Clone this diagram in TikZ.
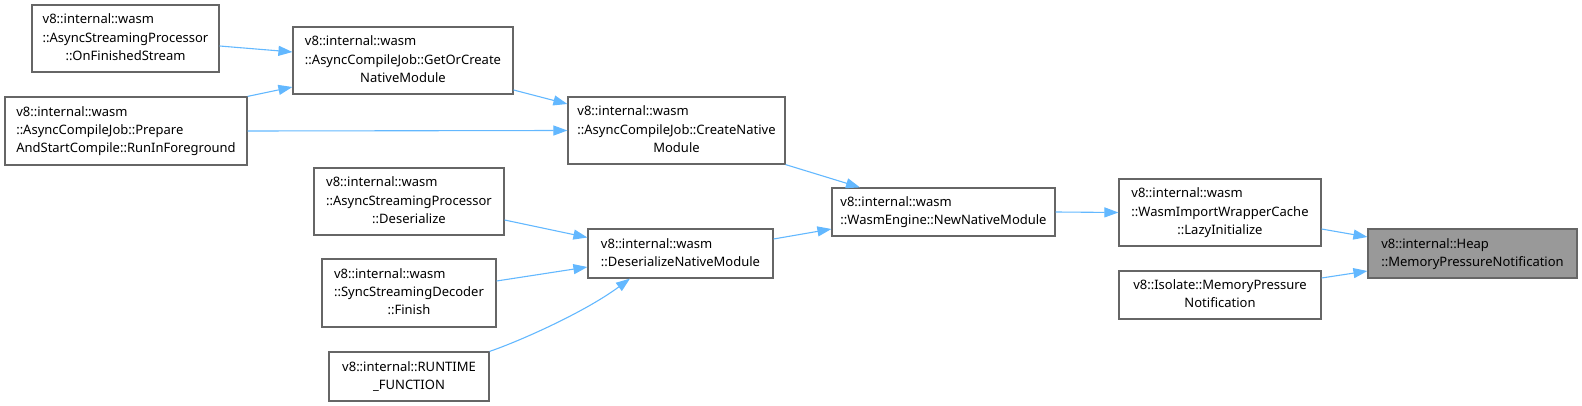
\documentclass[tikz,border=0pt]{standalone}
\usepackage{fontspec}
\setmainfont{Noto Sans}
\usetikzlibrary{arrows.meta,calc}
\definecolor{edgec}{HTML}{63B8FF}
\definecolor{bordc}{HTML}{666666}
\definecolor{rootc}{HTML}{999999}
\newcommand{\labthree}[3]{\begin{tabular}{@{}l@{}}#1\\#2\\\multicolumn{1}{@{}c@{}}{#3}\end{tabular}}
\newcommand{\labtwo}[2]{\begin{tabular}{@{}l@{}}#1\\\multicolumn{1}{@{}c@{}}{#2}\end{tabular}}
\tikzset{
  fnbox/.style={draw=bordc, line width=1.2pt, fill=white, inner sep=0pt, font=\fontsize{13}{18.3}\selectfont},
  rootbox/.style={fnbox, fill=rootc},
  calls/.style={draw=edgec, line width=1.1pt, -{Triangle[length=14pt,width=10pt]}},
}
\begin{document}
\begin{tikzpicture}[x=1pt,y=-1pt]
\useasboundingbox (0,0) rectangle (1582,406);
\node[fnbox, minimum width=187pt, minimum height=67pt] (ofs) at (125.5,38.5) {\labthree{v8::internal::wasm}{::AsyncStreamingProcessor}{::OnFinishedStream}};
\node[fnbox, minimum width=220pt, minimum height=67pt] (goc) at (403,60.5) {\labthree{v8::internal::wasm}{::AsyncCompileJob::GetOrCreate}{NativeModule}};
\node[fnbox, minimum width=242pt, minimum height=68pt] (rif) at (126,131) {\labthree{v8::internal::wasm}{::AsyncCompileJob::Prepare}{AndStartCompile::RunInForeground}};
\node[fnbox, minimum width=217pt, minimum height=67pt] (cnm) at (676.5,130.5) {\labthree{v8::internal::wasm}{::AsyncCompileJob::CreateNative}{Module}};
\node[fnbox, minimum width=223pt, minimum height=48pt] (nnm) at (943.5,212) {\labtwo{v8::internal::wasm}{::WasmEngine::NewNativeModule}};
\node[fnbox, minimum width=202pt, minimum height=67pt] (lazy) at (1220,212.5) {\labthree{v8::internal::wasm}{::WasmImportWrapperCache}{::LazyInitialize}};
\node[rootbox, minimum width=209pt, minimum height=49pt] (heap) at (1472.5,253.5) {\labtwo{v8::internal::Heap}{::MemoryPressureNotification}};
\node[fnbox, minimum width=202pt, minimum height=48pt] (iso) at (1220,295) {\labtwo{v8::Isolate::MemoryPressure}{Notification}};
\node[fnbox, minimum width=190pt, minimum height=67pt] (des) at (409,201.5) {\labthree{v8::internal::wasm}{::AsyncStreamingProcessor}{::Deserialize}};
\node[fnbox, minimum width=185pt, minimum height=49pt] (dnm) at (680.5,253.5) {\labtwo{v8::internal::wasm}{::DeserializeNativeModule}};
\node[fnbox, minimum width=174pt, minimum height=68pt] (ssd) at (409,293) {\labthree{v8::internal::wasm}{::SyncStreamingDecoder}{::Finish}};
\node[fnbox, minimum width=160pt, minimum height=49pt] (rt) at (409,376.5) {\labtwo{v8::internal::RUNTIME}{\_FUNCTION}};

\draw[calls] ([yshift=-7.5pt]ofs.east) -- ([yshift=8.5pt]goc.west);
\draw[calls] (rif.north east) -- ([yshift=-26.5pt]goc.west);
\draw[calls] (rif.east) -- (cnm.west);
\draw[calls] ([yshift=-29.5pt]goc.east) -- ([yshift=26.5pt]cnm.west);
\draw[calls] (cnm.south east) -- ([xshift=-83.5pt]nnm.north);
\draw[calls] ([yshift=-18.5pt]des.east) -- ([yshift=16pt]dnm.west);
\draw[calls] ([yshift=12pt]ssd.east) -- ([yshift=-13.5pt]dnm.west);
\draw[calls] (rt.north east) .. controls (520,341) and (585,312) .. ([xshift=-50.5pt]dnm.south);
\draw[calls] ([yshift=14.5pt]dnm.east) -- ([yshift=-17pt]nnm.west);
\draw[calls] (nnm.east) -- (lazy.west);
\draw[calls] ([yshift=-16.5pt]lazy.east) -- ([yshift=16.5pt]heap.west);
\draw[calls] ([yshift=17pt]iso.east) -- ([yshift=-17.5pt]heap.west);
\end{tikzpicture}
\end{document}
